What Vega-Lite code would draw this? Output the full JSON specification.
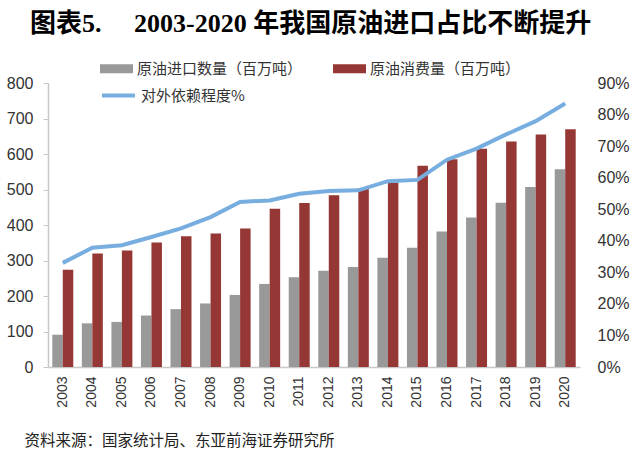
{
  "$schema": "https://vega.github.io/schema/vega-lite/v6.json",
  "width": 532,
  "height": 284,
  "autosize": {"type": "none"},
  "padding": {"left": 48, "top": 83, "right": 60, "bottom": 88},
  "background": "white",
  "title": {
    "text": "图表5.　  2003-2020 年我国原油进口占比不断提升",
    "font": "Liberation Serif, Noto Sans CJK SC",
    "fontSize": 26,
    "fontWeight": "bold",
    "color": "#000000",
    "anchor": "start",
    "frame": "group",
    "dx": -18,
    "offset": 15
  },
  "datasets": {
    "bars": [
      {"year": "2003", "series": "import", "value": 91},
      {"year": "2004", "series": "import", "value": 123},
      {"year": "2005", "series": "import", "value": 127},
      {"year": "2006", "series": "import", "value": 145},
      {"year": "2007", "series": "import", "value": 163},
      {"year": "2008", "series": "import", "value": 179},
      {"year": "2009", "series": "import", "value": 203},
      {"year": "2010", "series": "import", "value": 234},
      {"year": "2011", "series": "import", "value": 253},
      {"year": "2012", "series": "import", "value": 271},
      {"year": "2013", "series": "import", "value": 282},
      {"year": "2014", "series": "import", "value": 308},
      {"year": "2015", "series": "import", "value": 336},
      {"year": "2016", "series": "import", "value": 382},
      {"year": "2017", "series": "import", "value": 421},
      {"year": "2018", "series": "import", "value": 463},
      {"year": "2019", "series": "import", "value": 507},
      {"year": "2020", "series": "import", "value": 557},
      {"year": "2003", "series": "consumption", "value": 274},
      {"year": "2004", "series": "consumption", "value": 320},
      {"year": "2005", "series": "consumption", "value": 328},
      {"year": "2006", "series": "consumption", "value": 351},
      {"year": "2007", "series": "consumption", "value": 368},
      {"year": "2008", "series": "consumption", "value": 376},
      {"year": "2009", "series": "consumption", "value": 390},
      {"year": "2010", "series": "consumption", "value": 446},
      {"year": "2011", "series": "consumption", "value": 462},
      {"year": "2012", "series": "consumption", "value": 484},
      {"year": "2013", "series": "consumption", "value": 504},
      {"year": "2014", "series": "consumption", "value": 520},
      {"year": "2015", "series": "consumption", "value": 567},
      {"year": "2016", "series": "consumption", "value": 585},
      {"year": "2017", "series": "consumption", "value": 615},
      {"year": "2018", "series": "consumption", "value": 635},
      {"year": "2019", "series": "consumption", "value": 655},
      {"year": "2020", "series": "consumption", "value": 670}
    ],
    "ratio": [
      {"year": "2003", "ratio": 0.330},
      {"year": "2004", "ratio": 0.378},
      {"year": "2005", "ratio": 0.386},
      {"year": "2006", "ratio": 0.412},
      {"year": "2007", "ratio": 0.439},
      {"year": "2008", "ratio": 0.475},
      {"year": "2009", "ratio": 0.523},
      {"year": "2010", "ratio": 0.528},
      {"year": "2011", "ratio": 0.549},
      {"year": "2012", "ratio": 0.558},
      {"year": "2013", "ratio": 0.560},
      {"year": "2014", "ratio": 0.589},
      {"year": "2015", "ratio": 0.593},
      {"year": "2016", "ratio": 0.657},
      {"year": "2017", "ratio": 0.692},
      {"year": "2018", "ratio": 0.737},
      {"year": "2019", "ratio": 0.779},
      {"year": "2020", "ratio": 0.835}
    ]
  },
  "layer": [
    {
      "data": {"name": "bars"},
      "mark": {"type": "bar"},
      "encoding": {
        "x": {
          "field": "year",
          "type": "nominal",
          "scale": {"paddingInner": 0.29, "paddingOuter": 0.145},
          "axis": {
            "title": "资料来源：国家统计局、东亚前海证券研究所",
            "titleFont": "Noto Sans CJK SC",
            "titleFontSize": 15.5,
            "titleFontWeight": "normal",
            "titleColor": "#222222",
            "titleAnchor": "start",
            "titleAlign": "left",
            "titleBaseline": "middle",
            "titleX": -24,
            "titleY": 73,
            "labelAngle": 270,
            "labelFont": "Liberation Sans",
            "labelFontSize": 14,
            "labelColor": "#333333",
            "labelPadding": 9,
            "ticks": false,
            "domainColor": "#c8c8c8",
            "domainWidth": 1.5,
            "grid": false
          }
        },
        "xOffset": {
          "field": "series",
          "type": "nominal",
          "scale": {"domain": ["import", "consumption"], "paddingInner": 0, "paddingOuter": 0}
        },
        "y": {
          "field": "value",
          "type": "quantitative",
          "scale": {"domain": [0, 800], "nice": false},
          "axis": {
            "title": null,
            "values": [0, 100, 200, 300, 400, 500, 600, 700, 800],
            "labelFont": "Liberation Sans",
            "labelFontSize": 16,
            "labelColor": "#333333",
            "labelPadding": 10,
            "tickSize": 5,
            "tickColor": "#c8c8c8",
            "domainColor": "#c8c8c8",
            "domainWidth": 1.5,
            "grid": false
          }
        },
        "color": {
          "field": "series",
          "type": "nominal",
          "scale": {"domain": ["import", "consumption"], "range": ["#999999", "#953735"]},
          "legend": {
            "title": null,
            "orient": "none",
            "legendX": 52,
            "legendY": -31,
            "direction": "horizontal",
            "columns": 2,
            "columnPadding": 30,
            "padding": 0,
            "symbolType": "M-1,-0.27H1V0.27H-1Z",
            "symbolSize": 1089,
            "symbolStrokeWidth": 0,
            "labelOffset": 4,
            "labelFont": "Noto Sans CJK SC",
            "labelFontSize": 15,
            "labelColor": "#333333",
            "labelLimit": 300,
            "labelExpr": "datum.label == 'import' ? '原油进口数量（百万吨）' : '原油消费量（百万吨）'"
          }
        }
      }
    },
    {
      "data": {"name": "ratio"},
      "mark": {"type": "line", "strokeWidth": 4},
      "encoding": {
        "x": {"field": "year", "type": "nominal"},
        "y": {
          "field": "ratio",
          "type": "quantitative",
          "scale": {"domain": [0, 0.9], "nice": false},
          "axis": {
            "title": null,
            "orient": "right",
            "values": [0, 0.1, 0.2, 0.3, 0.4, 0.5, 0.6, 0.7, 0.8, 0.9],
            "format": ".0%",
            "labelFont": "Liberation Sans",
            "labelFontSize": 16,
            "labelColor": "#333333",
            "labelPadding": 17,
            "ticks": false,
            "domain": false,
            "grid": false
          }
        },
        "stroke": {
          "datum": "对外依赖程度%",
          "type": "nominal",
          "scale": {"range": ["#78AEDF"]},
          "legend": {
            "title": null,
            "orient": "none",
            "legendX": 52,
            "legendY": -6,
            "padding": 0,
            "symbolType": "stroke",
            "symbolSize": 1089,
            "symbolStrokeWidth": 4,
            "labelOffset": 4,
            "labelFont": "Noto Sans CJK SC",
            "labelFontSize": 15,
            "labelColor": "#333333"
          }
        }
      }
    }
  ],
  "resolve": {"scale": {"y": "independent"}},
  "config": {"view": {"stroke": null}}
}
